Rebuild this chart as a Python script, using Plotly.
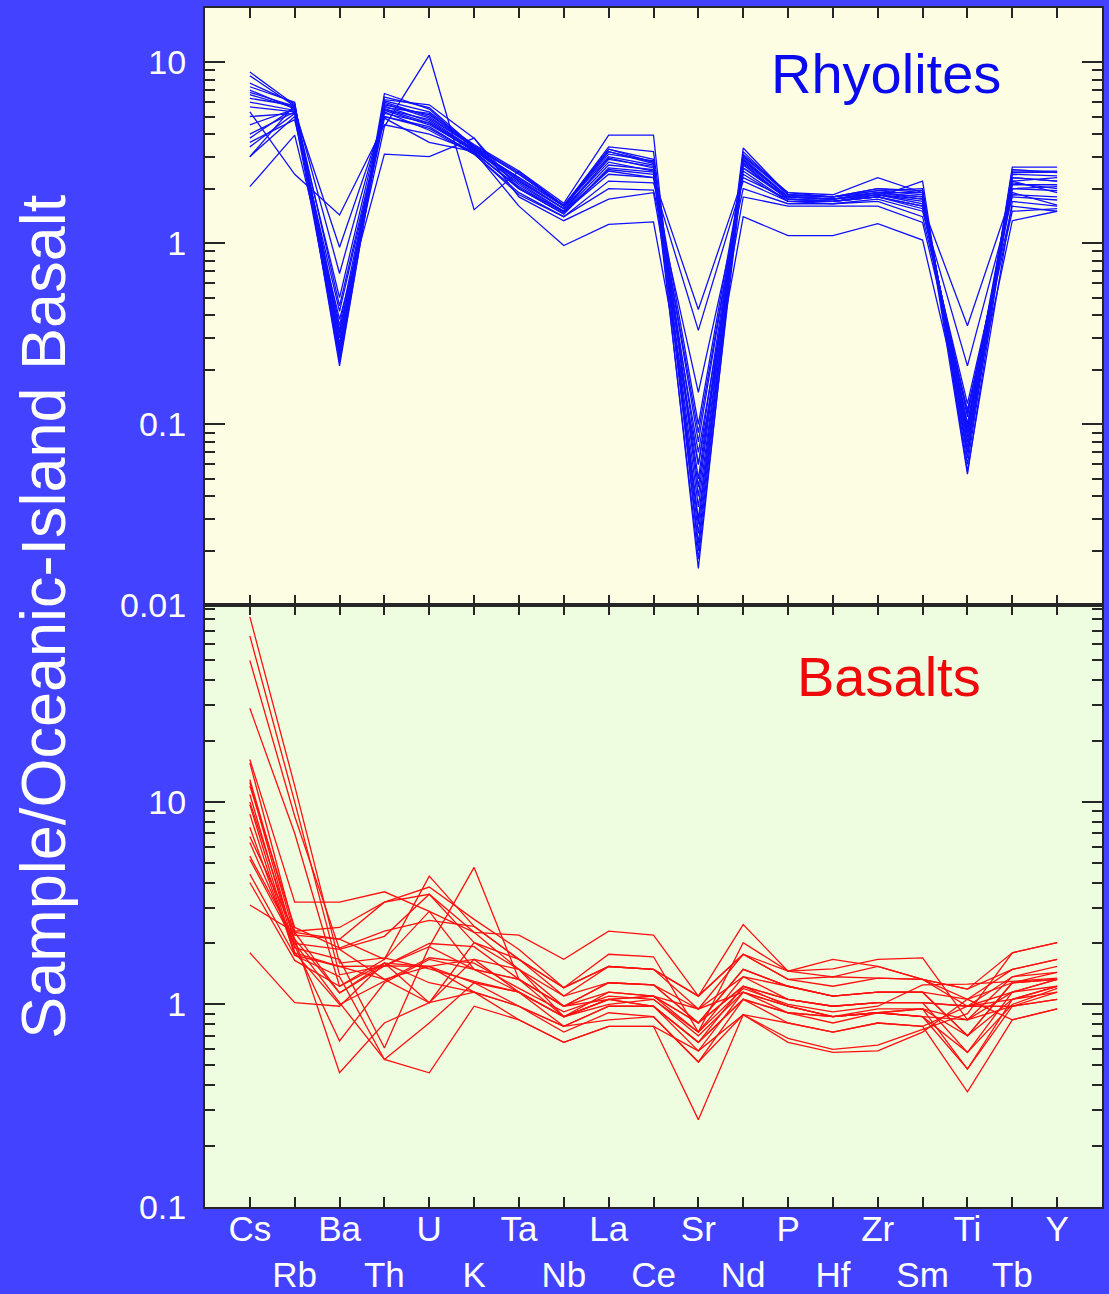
import plotly.graph_objects as go

# ---------------- data ----------------
elements = ["Cs", "Rb", "Ba", "Th", "U", "K", "Ta", "Nb", "La", "Ce",
            "Sr", "Nd", "P", "Hf", "Zr", "Sm", "Ti", "Tb", "Y"]
tick_labels = ["Cs", "<br>Rb", "Ba", "<br>Th", "U", "<br>K", "Ta", "<br>Nb", "La", "<br>Ce",
               "Sr", "<br>Nd", "P", "<br>Hf", "Zr", "<br>Sm", "Ti", "<br>Tb", "Y"]

top_tick_vals = [0.01, 0.1, 1, 10]
top_tick_text = ["0.01", "0.1", "1", "10"]
bot_tick_vals = [0.1, 1, 10]
bot_tick_text = ["0.1", "1", "10"]

# Rhyolites (sample / OIB)
rhy_01 = [8.8, 5.8, 0.30, 6.0, 5.0, 3.4, 2.2, 1.55, 3.3, 2.8, 0.045, 2.9, 1.8, 1.75, 1.9, 1.8, 0.09, 2.2, 2.3]
rhy_02 = [8.4, 5.7, 0.25, 6.7, 5.5, 3.3, 2.3, 1.6, 3.2, 2.75, 0.03, 3.35, 1.85, 1.8, 1.95, 1.85, 0.07, 2.63, 2.63]
rhy_03 = [7.65, 5.9, 0.22, 5.8, 5.1, 3.5, 2.5, 1.66, 3.95, 3.95, 0.02, 3.0, 1.9, 1.8, 2.0, 1.95, 0.06, 2.45, 2.47]
rhy_04 = [7.0, 5.5, 0.35, 5.5, 4.8, 3.3, 2.1, 1.5, 2.95, 2.6, 0.06, 2.75, 1.75, 1.7, 1.85, 1.7, 0.1, 2.3, 2.2]
rhy_05 = [6.6, 5.6, 0.45, 5.2, 4.6, 3.2, 2.0, 1.45, 2.55, 2.4, 0.08, 2.5, 1.7, 1.7, 1.8, 1.6, 0.11, 2.0, 2.05]
rhy_06 = [6.0, 5.4, 0.28, 5.9, 4.9, 3.4, 2.4, 1.6, 3.1, 2.85, 0.025, 2.95, 1.8, 1.8, 1.9, 1.9, 0.08, 2.2, 1.9]
rhy_07 = [5.65, 5.3, 0.95, 5.0, 4.4, 3.1, 1.9, 1.4, 2.2, 2.15, 0.33, 2.2, 1.7, 1.65, 1.75, 1.5, 0.21, 1.8, 1.73]
rhy_08 = [5.3, 2.4, 1.43, 4.5, 4.0, 3.2, 2.0, 1.5, 2.5, 2.3, 0.43, 2.3, 1.75, 1.7, 1.8, 1.6, 0.35, 1.9, 1.62]
rhy_09 = [3.8, 5.6, 0.68, 5.3, 4.2, 3.1, 1.85, 1.4, 2.0, 1.96, 0.15, 2.0, 1.65, 1.65, 1.7, 1.4, 0.13, 1.6, 1.5]
rhy_10 = [3.4, 5.2, 0.5, 5.6, 5.2, 3.35, 2.25, 1.55, 2.8, 2.5, 0.1, 2.6, 1.8, 1.75, 1.85, 1.75, 0.095, 2.1, 2.1]
rhy_11 = [3.0, 5.0, 0.24, 6.2, 5.8, 3.8, 2.0, 1.45, 2.6, 2.47, 0.018, 2.6, 1.75, 1.7, 1.8, 2.2, 0.055, 1.7, 1.6]
rhy_12 = [3.0, 5.8, 0.32, 4.4, 10.9, 1.53, 2.5, 1.6, 3.4, 3.2, 0.04, 3.1, 1.9, 1.85, 2.3, 1.9, 0.075, 2.5, 2.5]
rhy_13 = [2.05, 3.95, 0.38, 3.1, 3.0, 3.8, 1.8, 1.33, 1.75, 1.9, 0.07, 1.8, 1.6, 1.6, 1.6, 1.3, 0.12, 1.5, 1.55]
rhy_14 = [6.8, 5.7, 0.26, 5.7, 4.7, 3.3, 2.3, 1.6, 3.0, 2.7, 0.035, 2.85, 1.8, 1.75, 1.9, 1.8, 0.085, 2.4, 2.35]
rhy_15 = [6.3, 5.75, 0.23, 6.4, 5.6, 3.4, 2.4, 1.62, 3.3, 2.9, 0.022, 3.2, 1.85, 1.8, 1.95, 2.0, 0.065, 2.55, 2.45]
rhy_16 = [4.5, 5.5, 0.3, 5.4, 4.5, 3.25, 2.15, 1.5, 2.7, 2.55, 0.05, 2.7, 1.75, 1.75, 1.85, 1.65, 0.1, 2.0, 1.95]
rhy_17 = [3.6, 4.8, 0.42, 5.0, 4.3, 3.15, 2.05, 1.48, 2.4, 2.3, 0.09, 2.4, 1.7, 1.7, 1.8, 1.55, 0.115, 1.85, 1.8]
rhy_18 = [7.3, 6.0, 0.21, 6.1, 5.3, 3.45, 2.45, 1.62, 3.2, 2.8, 0.016, 3.05, 1.85, 1.8, 2.0, 1.9, 0.053, 2.3, 2.2]
rhy_19 = [5.0, 5.2, 0.27, 5.5, 4.6, 3.3, 2.2, 1.55, 2.9, 2.65, 0.028, 2.8, 1.8, 1.75, 1.9, 1.75, 0.07, 2.15, 2.0]
rhy_20 = [4.0, 5.3, 0.33, 4.9, 3.6, 3.2, 1.6, 0.97, 1.27, 1.31, 0.06, 1.4, 1.1, 1.1, 1.28, 1.04, 0.09, 1.33, 1.5]

# Basalts (sample / OIB)
bas_01 = [82, 12, 1.6, 1.7, 1.5, 1.3, 1.15, 0.87, 1.06, 1.1, 0.81, 1.23, 1.06, 0.98, 1.02, 1.02, 0.98, 1.15, 1.33]
bas_02 = [66, 10, 1.4, 1.55, 1.93, 1.49, 1.33, 0.98, 1.28, 1.25, 0.95, 1.37, 1.23, 1.1, 1.15, 1.15, 1.06, 1.28, 1.44]
bas_03 = [50, 8.5, 1.87, 1.33, 1.54, 1.67, 1.49, 1.1, 1.54, 1.49, 1.1, 1.77, 1.33, 1.23, 1.35, 1.33, 1.19, 1.49, 1.67]
bas_04 = [29, 7.0, 1.23, 1.6, 1.02, 2.02, 1.67, 1.21, 1.77, 1.72, 0.73, 2.02, 1.46, 1.5, 1.67, 1.7, 0.84, 1.37, 1.54]
bas_05 = [16.2, 3.2, 3.2, 3.6, 2.88, 2.27, 2.2, 1.67, 2.3, 2.2, 1.1, 2.48, 1.46, 1.67, 1.54, 1.33, 1.19, 1.8, 2.02]
bas_06 = [15.6, 2.3, 2.4, 3.2, 3.8, 2.63, 1.87, 1.21, 1.54, 1.49, 0.95, 1.77, 1.33, 1.37, 1.35, 1.33, 1.06, 1.49, 1.67]
bas_07 = [12.9, 2.2, 2.1, 1.67, 4.3, 2.43, 1.67, 1.1, 1.28, 1.25, 0.81, 1.49, 1.23, 1.1, 1.15, 1.15, 0.7, 1.28, 1.33]
bas_08 = [12.5, 2.0, 1.87, 2.17, 3.5, 2.02, 1.49, 0.98, 1.15, 1.1, 0.73, 1.37, 1.06, 0.98, 1.02, 1.02, 0.58, 1.15, 1.23]
bas_09 = [10.9, 1.9, 1.67, 0.61, 1.93, 4.75, 1.33, 0.87, 1.06, 0.98, 0.65, 1.23, 0.98, 0.87, 0.91, 0.95, 0.48, 1.06, 1.23]
bas_10 = [9.7, 1.8, 1.54, 1.33, 1.02, 1.67, 1.15, 0.78, 0.98, 0.98, 0.59, 1.15, 0.91, 0.87, 0.91, 0.87, 0.84, 0.98, 1.06]
bas_11 = [8.7, 1.75, 1.37, 0.535, 0.81, 1.28, 0.98, 0.73, 0.91, 0.87, 0.52, 1.06, 0.81, 0.73, 0.81, 0.78, 0.98, 0.98, 1.06]
bas_12 = [6.75, 2.27, 1.14, 1.6, 1.54, 1.15, 0.84, 0.65, 0.78, 0.78, 0.27, 0.89, 0.65, 0.58, 0.59, 0.73, 1.06, 0.84, 0.95]
bas_13 = [6.3, 1.95, 0.66, 1.28, 1.67, 1.49, 1.15, 0.87, 1.0, 1.06, 0.7, 1.15, 0.98, 0.87, 0.95, 0.95, 0.7, 1.06, 1.15]
bas_14 = [5.4, 2.1, 0.46, 0.81, 1.02, 1.15, 0.98, 0.78, 0.98, 0.98, 0.65, 1.06, 0.91, 0.81, 0.91, 0.87, 0.58, 1.0, 1.2]
bas_15 = [5.2, 2.0, 1.02, 0.535, 0.46, 0.98, 0.84, 0.65, 0.78, 0.78, 0.59, 0.89, 0.81, 0.73, 0.81, 0.78, 0.37, 0.84, 0.95]
bas_16 = [4.4, 1.75, 1.54, 1.55, 1.54, 1.28, 1.15, 0.87, 1.15, 1.1, 0.81, 1.23, 1.06, 0.98, 1.02, 1.02, 0.98, 1.06, 1.23]
bas_17 = [4.0, 1.65, 1.23, 1.67, 2.88, 1.49, 1.33, 0.98, 1.06, 1.1, 0.95, 1.15, 0.98, 0.87, 0.91, 0.95, 0.84, 1.15, 1.33]
bas_18 = [3.1, 2.27, 2.1, 3.2, 3.5, 2.27, 1.49, 0.87, 1.06, 0.98, 0.65, 1.06, 0.91, 0.87, 0.91, 0.87, 0.48, 0.98, 1.15]
bas_19 = [1.8, 1.02, 0.98, 1.6, 1.28, 1.15, 0.98, 0.78, 0.84, 0.87, 0.52, 0.89, 0.68, 0.6, 0.63, 0.75, 0.9, 1.8, 2.02]
bas_20 = [12.0, 2.4, 1.9, 2.3, 2.6, 2.43, 1.67, 1.21, 1.54, 1.49, 1.1, 1.77, 1.46, 1.37, 1.54, 1.33, 0.98, 1.37, 1.44]
bas_21 = [10.0, 2.1, 1.14, 1.55, 2.0, 1.93, 1.33, 0.98, 1.28, 1.25, 0.81, 1.49, 1.23, 1.1, 1.15, 1.15, 0.7, 1.28, 1.33]
bas_22 = [7.5, 1.8, 1.0, 1.3, 1.7, 1.6, 1.2, 0.92, 1.1, 1.06, 0.73, 1.2, 1.0, 0.92, 0.98, 1.25, 1.26, 1.3, 1.35]

rhyolite_samples = [rhy_01, rhy_02, rhy_03, rhy_04, rhy_05, rhy_06, rhy_07, rhy_08, rhy_09, rhy_10,
                    rhy_11, rhy_12, rhy_13, rhy_14, rhy_15, rhy_16, rhy_17, rhy_18, rhy_19, rhy_20]
basalt_samples = [bas_01, bas_02, bas_03, bas_04, bas_05, bas_06, bas_07, bas_08, bas_09, bas_10, bas_11,
                  bas_12, bas_13, bas_14, bas_15, bas_16, bas_17, bas_18, bas_19, bas_20, bas_21, bas_22]

# ---------------- style ----------------
OUTER = "#4343FF"
CREAM = "#FDFDE3"
GREEN = "#EEFCE0"
AXIS = "#262626"
FONT = "Liberation Sans, Arial, sans-serif"

fig = go.Figure()
for s in rhyolite_samples:
    fig.add_trace(go.Scatter(x=elements, y=s, mode="lines", xaxis="x", yaxis="y",
                             line=dict(color="#1010FF", width=1.3), hoverinfo="skip"))
for s in basalt_samples:
    fig.add_trace(go.Scatter(x=elements, y=s, mode="lines", xaxis="x2", yaxis="y2",
                             line=dict(color="#FF1010", width=1.3), hoverinfo="skip"))

split = 0.5017
top_minor = [k * 10 ** e for e in (-2, -1, 0, 1) for k in range(2, 10) if k * 10 ** e < 20]
bot_minor = [k * 10 ** e for e in (-1, 0, 1) for k in range(2, 10)]

common_x = dict(type="category", categoryorder="array", categoryarray=elements,
                range=[-1, 19], tickmode="array", tickvals=elements, tickangle=0,
                ticks="inside", ticklen=10, tickwidth=2, tickcolor=AXIS,
                showline=True, linecolor=AXIS, linewidth=2, mirror="ticks",
                showgrid=False, zeroline=False, automargin=False)
common_y = dict(type="log", ticks="inside", ticklen=20, tickwidth=2, tickcolor=AXIS,
                showline=True, linecolor=AXIS, linewidth=2, mirror="ticks",
                showgrid=False, zeroline=False, ticklabelstandoff=10, automargin=False,
                tickfont=dict(family=FONT, size=34, color="white"))

fig.update_layout(
    width=1109, height=1294,
    margin=dict(l=205, r=7, t=8, b=87, autoexpand=False),
    paper_bgcolor=OUTER, plot_bgcolor=CREAM,
    showlegend=False,
    xaxis=dict(common_x, anchor="y", showticklabels=False),
    xaxis2=dict(common_x, anchor="y2", ticktext=tick_labels, ticklabelstandoff=-10,
                tickfont=dict(family=FONT, size=35, color="white")),
    yaxis=dict(common_y, domain=[split, 1], anchor="x", range=[-2, 1.298],
               tickvals=top_tick_vals, ticktext=top_tick_text,
               minor=dict(tickvals=top_minor, ticks="inside", ticklen=10, tickwidth=2,
                          tickcolor=AXIS, showgrid=False)),
    yaxis2=dict(common_y, domain=[0, split], anchor="x2", range=[-1, 1.970],
                tickvals=bot_tick_vals, ticktext=bot_tick_text,
                minor=dict(tickvals=bot_minor, ticks="inside", ticklen=10, tickwidth=2,
                           tickcolor=AXIS, showgrid=False)),
    shapes=[
        dict(type="rect", xref="x domain", yref="y domain", x0=0, x1=1, y0=0, y1=1,
             fillcolor=CREAM, line_width=0, layer="below"),
        dict(type="rect", xref="x2 domain", yref="y2 domain", x0=0, x1=1, y0=0, y1=1,
             fillcolor=GREEN, line_width=0, layer="below"),
    ],
    annotations=[
        dict(text="Sample/Oceanic-Island Basalt", xref="paper", yref="paper",
             x=-0.181, y=0.492, xanchor="center", yanchor="middle", textangle=-90,
             showarrow=False, font=dict(family=FONT, size=63, color="white")),
        dict(text="Rhyolites", xref="x", yref="y domain", x=14.18, y=0.89,
             xanchor="center", yanchor="middle", showarrow=False,
             font=dict(family=FONT, size=56, color="#0A0AEE")),
        dict(text="Basalts", xref="x2", yref="y2 domain", x=14.25, y=0.882,
             xanchor="center", yanchor="middle", showarrow=False,
             font=dict(family=FONT, size=56, color="#EE0A0A")),
    ],
)

fig.write_html(
    "out.html",
    config={"displayModeBar": False},
    post_script="document.body.style.margin='0';document.body.style.padding='0';"
                "document.body.style.overflow='hidden';",
)
